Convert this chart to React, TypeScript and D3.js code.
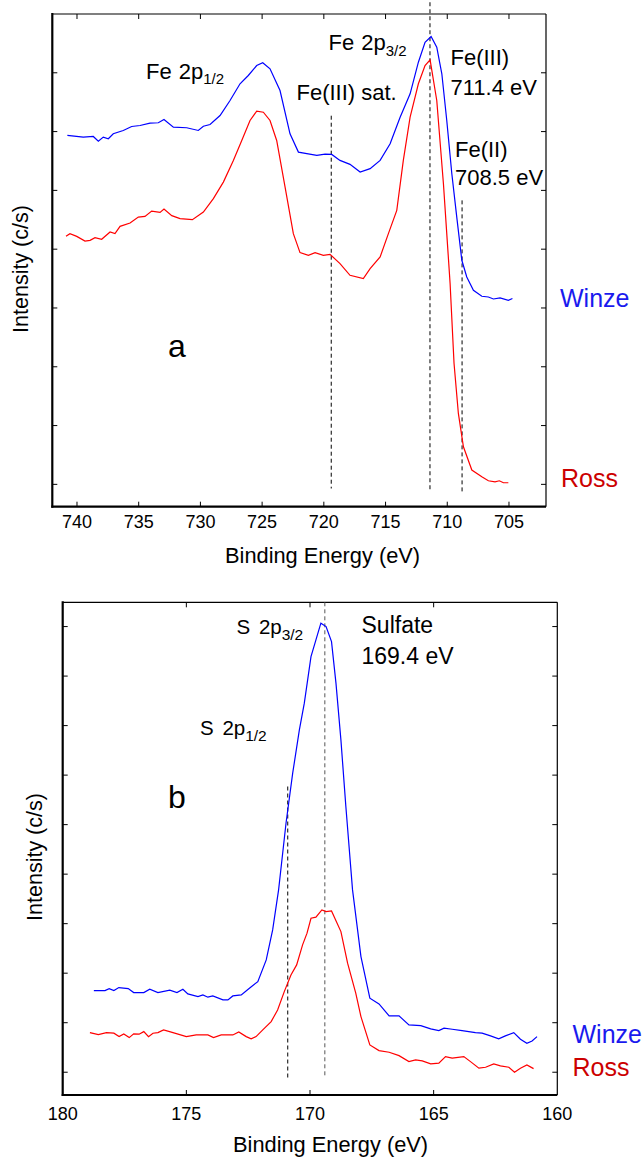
import React from 'react'
import { scaleLinear, line } from 'd3'

// Fe 2p spectra, [binding energy eV, intensity in tick units]
const feWinze: [number, number][] = [
  [740.78, 5.934], [739.49, 5.906], [738.68, 5.917], [738.27, 5.838], [737.87, 5.906],
  [737.46, 5.878], [737.06, 5.963], [736.25, 6.019], [735.57, 6.087], [734.89, 6.104],
  [734.08, 6.143], [733.41, 6.15], [732.95, 6.206], [732.19, 6.075], [731.11, 6.065],
  [730.17, 6.019], [729.76, 6.092], [729.22, 6.121], [728.41, 6.274], [727.6, 6.529],
  [726.79, 6.813], [726.12, 6.954], [725.44, 7.124], [724.95, 7.17], [724.36, 7.068],
  [723.55, 6.699], [722.74, 5.963], [722.06, 5.651], [721.38, 5.624], [720.57, 5.595],
  [719.9, 5.617], [719.36, 5.612], [718.69, 5.51], [717.88, 5.442], [717.06, 5.311],
  [716.25, 5.369], [715.44, 5.51], [714.63, 5.793], [713.82, 6.245], [713.01, 6.643],
  [712.34, 7.18], [711.8, 7.52], [711.31, 7.617], [710.85, 7.435], [710.44, 6.983],
  [710.04, 6.189], [709.63, 5.284], [709.23, 4.546], [708.82, 3.811], [708.42, 3.527],
  [707.88, 3.301], [707.2, 3.199], [706.67, 3.187], [706.26, 3.153], [705.72, 3.17],
  [705.05, 3.131], [704.72, 3.16],
]

const feRoss: [number, number][] = [
  [740.89, 4.218], [740.57, 4.264], [740.02, 4.218], [739.35, 4.139], [738.94, 4.151],
  [738.54, 4.196], [738.0, 4.168], [737.32, 4.292], [736.92, 4.264], [736.51, 4.388],
  [735.7, 4.444], [735.03, 4.546], [734.49, 4.558], [733.95, 4.648], [733.27, 4.626],
  [732.95, 4.682], [732.32, 4.57], [731.65, 4.519], [730.65, 4.502], [729.76, 4.631],
  [728.95, 4.859], [728.14, 5.141], [727.33, 5.51], [726.65, 5.849], [725.98, 6.189],
  [725.44, 6.347], [724.9, 6.33], [724.36, 6.189], [723.82, 5.849], [723.14, 5.056],
  [722.47, 4.264], [721.93, 3.942], [721.25, 3.896], [720.71, 3.942], [720.04, 3.896],
  [719.5, 3.913], [718.69, 3.755], [717.88, 3.556], [716.8, 3.5], [716.25, 3.67],
  [715.44, 3.867], [714.77, 4.264], [714.09, 4.66], [713.56, 5.51], [713.01, 6.245],
  [712.34, 6.813], [711.8, 7.124], [711.39, 7.221], [710.85, 6.529], [710.31, 5.114],
  [709.77, 3.415], [709.45, 2.056], [709.1, 1.206], [708.69, 0.639], [708.01, 0.243],
  [707.2, 0.129], [706.67, 0.061], [706.13, 0.044], [705.78, 0.061], [705.45, 0.027],
  [705.05, 0.027],
]

// S 2p spectra
const sWinze: [number, number][] = [
  [178.74, 1.648], [178.29, 1.648], [178.12, 1.689], [177.93, 1.648], [177.73, 1.709],
  [177.35, 1.689], [177.13, 1.608], [176.72, 1.608], [176.48, 1.676], [176.15, 1.608],
  [175.67, 1.656], [175.38, 1.608], [175.14, 1.676], [174.94, 1.581], [174.53, 1.527],
  [174.33, 1.561], [174.13, 1.515], [173.93, 1.541], [173.52, 1.46], [173.32, 1.46],
  [173.12, 1.541], [172.78, 1.561], [172.45, 1.697], [172.11, 1.83], [171.77, 2.268],
  [171.51, 2.874], [171.27, 3.682], [170.97, 5.029], [170.7, 6.039], [170.43, 6.914],
  [170.23, 7.453], [169.96, 8.394], [169.76, 8.732], [169.56, 9.069], [169.35, 9.0],
  [169.13, 8.697], [168.95, 7.857], [168.75, 6.712], [168.55, 5.365], [168.28, 3.682],
  [167.94, 2.335], [167.58, 1.495], [167.21, 1.38], [166.8, 1.137], [166.4, 1.137],
  [166.0, 0.955], [165.52, 0.941], [165.12, 0.875], [164.79, 0.84], [164.58, 0.889],
  [164.25, 0.868], [163.85, 0.84], [163.58, 0.82], [163.31, 0.8], [163.04, 0.788],
  [162.7, 0.733], [162.37, 0.673], [162.1, 0.733], [161.76, 0.8], [161.49, 0.667],
  [161.23, 0.586], [161.02, 0.632], [160.82, 0.719],
]

const sRoss: [number, number][] = [
  [178.9, 0.8], [178.56, 0.759], [178.23, 0.8], [177.93, 0.788], [177.72, 0.719],
  [177.53, 0.774], [177.31, 0.699], [177.13, 0.774], [176.91, 0.768], [176.72, 0.82],
  [176.53, 0.719], [176.35, 0.788], [176.15, 0.8], [175.92, 0.854], [175.54, 0.8],
  [175.0, 0.719], [174.6, 0.753], [174.13, 0.753], [173.9, 0.699], [173.59, 0.753],
  [173.12, 0.753], [172.88, 0.814], [172.58, 0.719], [172.38, 0.673], [172.18, 0.719],
  [171.91, 0.854], [171.57, 1.022], [171.31, 1.258], [171.04, 1.628], [170.77, 1.965],
  [170.54, 2.167], [170.3, 2.571], [170.12, 2.808], [169.96, 3.11], [169.76, 3.131],
  [169.52, 3.278], [169.35, 3.244], [169.13, 3.258], [168.75, 2.84], [168.48, 2.202],
  [168.15, 1.596], [167.94, 1.123], [167.58, 0.551], [167.21, 0.436], [166.8, 0.404],
  [166.4, 0.335], [166.0, 0.214], [165.73, 0.248], [165.46, 0.228], [165.12, 0.168],
  [164.79, 0.182], [164.52, 0.315], [164.25, 0.283], [163.78, 0.315], [163.51, 0.214],
  [163.17, 0.081], [162.9, 0.101], [162.57, 0.168], [162.3, 0.127], [161.96, 0.101],
  [161.73, 0.0], [161.49, 0.081], [161.23, 0.147], [160.96, 0.073],
]

const feTicksX = [740, 735, 730, 725, 720, 715, 710, 705]
const feTicksY = [0, 1, 2, 3, 4, 5, 6, 7]
const sTicksX = [180, 175, 170, 165, 160]
const sTicksY = [0, 1, 2, 3, 4, 5, 6, 7, 8, 9]

// reference lines: [eV, from, to]
const feMarkers: [number, number, number][] = [[719.4, 6.27, -0.07], [711.4, 8.2, -0.1], [708.8, 4.83, -0.13]]
const sMarkers: [number, number, number][] = [[170.9, 5.77, -0.12], [169.4, 9.49, -0.12]]

const FONT = '"Liberation Sans", Arial, Helvetica, sans-serif'
const BLUE = '#0000ff'
const RED = '#ff0000'

function Frame({ x, y, xTicks, yTicks, edgeTicks, labelGap }: any) {
  const [x0, x1] = x.range()
  const [y0, y1] = y.range()
  const inner = xTicks.filter((t: number) => edgeTicks || (t !== x.domain()[0] && t !== x.domain()[1]))
  return (
    <g>
      {inner.map((t: number) => (
        <g key={'xt' + t}>
          <line x1={x(t)} x2={x(t)} y1={y0} y2={y0 - 5} stroke="#000" />
          <line x1={x(t)} x2={x(t)} y1={y1} y2={y1 + 5} stroke="#000" />
        </g>
      ))}
      {xTicks.map((t: number) => (
        <text key={'xl' + t} x={x(t)} y={y0 + labelGap} textAnchor="middle" fontSize={18} fontFamily={FONT}>{t}</text>
      ))}
      {yTicks.map((t: number) => (
        <g key={'yt' + t}>
          <line x1={x0} x2={x0 + 5} y1={y(t)} y2={y(t)} stroke="#000" />
          <line x1={x1} x2={x1 - 5} y1={y(t)} y2={y(t)} stroke="#000" />
        </g>
      ))}
      <line x1={x0} x2={x1} y1={y1} y2={y1} stroke="#000" strokeWidth={1.2} />
      <line x1={x1} x2={x1} y1={y1} y2={y0} stroke="#000" strokeWidth={1.2} />
      <line x1={x0} x2={x0} y1={y1 - 1} y2={y0 + 1} stroke="#000" strokeWidth={2.2} />
      <line x1={x0 - 1} x2={x1} y1={y0} y2={y0} stroke="#000" strokeWidth={2.2} />
    </g>
  )
}

export default function App() {
  // panel a scales
  const xa = scaleLinear().domain([742, 702]).range([52.3, 546])
  const ya = scaleLinear().domain([-0.38, 8]).range([506.7, 14])
  // panel b scales
  const xb = scaleLinear().domain([180, 160]).range([62.7, 557.3])
  const yb = scaleLinear().domain([-0.46, 9.49]).range([1095, 602.3])

  const la = line<[number, number]>().x(d => xa(d[0])).y(d => ya(d[1]))
  const lb = line<[number, number]>().x(d => xb(d[0])).y(d => yb(d[1]))

  const txt = { fontFamily: FONT, fill: '#000' }

  return (
    <svg width={643} height={1157} style={{ position: 'absolute', left: 0, top: 0, background: '#fff' }}>
      {/* ---- panel a ---- */}
      <Frame x={xa} y={ya} xTicks={feTicksX} yTicks={feTicksY} edgeTicks={true} labelGap={21.5} />
      {feMarkers.map(([e, a, b]) => (
        <line key={'fm' + e} x1={xa(e)} x2={xa(e)} y1={ya(a)} y2={ya(b)} stroke="#000" strokeWidth={1} strokeDasharray="4,3" />
      ))}
      <path d={la(feWinze) || ''} fill="none" stroke={BLUE} strokeWidth={1.2} />
      <path d={la(feRoss) || ''} fill="none" stroke={RED} strokeWidth={1.2} />

      <text x={146} y={78.5} fontSize={22} {...txt}>Fe <tspan dx={1}>2p</tspan><tspan fontSize={15} dy={5.5}>1/2</tspan></text>
      <text x={328.5} y={50} fontSize={22} {...txt}>Fe <tspan dx={1}>2p</tspan><tspan fontSize={15} dy={6}>3/2</tspan></text>
      <text x={296.5} y={100} fontSize={22} {...txt}>Fe(III) sat.</text>
      <text x={450.5} y={65} fontSize={22} {...txt}>Fe(III)</text>
      <text x={450.5} y={95} fontSize={22} {...txt}>711.4 eV</text>
      <text x={455} y={156.5} fontSize={22} {...txt}>Fe(II)</text>
      <text x={455} y={185} fontSize={22} {...txt}>708.5 eV</text>
      <text x={168} y={357} fontSize={32} {...txt}>a</text>
      <text x={560} y={306.5} fontSize={25} fontFamily={FONT} fill="#1a1aee">Winze</text>
      <text x={561} y={487} fontSize={25} fontFamily={FONT} fill="#cc0000">Ross</text>
      <text x={225} y={563} fontSize={21.8} {...txt}>Binding Energy (eV)</text>
      <text transform="translate(27.5,269) rotate(-90)" textAnchor="middle" fontSize={21.5} {...txt}>Intensity (c/s)</text>

      {/* ---- panel b ---- */}
      <Frame x={xb} y={yb} xTicks={sTicksX} yTicks={sTicksY} edgeTicks={false} labelGap={25} />
      {sMarkers.map(([e, a, b], i) => (
        <line key={'sm' + e} x1={xb(e)} x2={xb(e)} y1={yb(a)} y2={yb(b)} stroke={i === 1 ? '#555' : '#000'} strokeWidth={1} strokeDasharray="4,3" />
      ))}
      <path d={lb(sWinze) || ''} fill="none" stroke={BLUE} strokeWidth={1.2} />
      <path d={lb(sRoss) || ''} fill="none" stroke={RED} strokeWidth={1.2} />

      <text x={236.5} y={633.5} fontSize={20.5} {...txt}>S <tspan dx={3}>2p</tspan><tspan fontSize={15.5} dy={6}>3/2</tspan></text>
      <text x={200} y={735} fontSize={20.5} {...txt}>S <tspan dx={3}>2p</tspan><tspan fontSize={15.5} dy={6}>1/2</tspan></text>
      <text x={361.5} y={632.5} fontSize={23} {...txt}>Sulfate</text>
      <text x={361.5} y={663.5} fontSize={23} {...txt}>169.4 eV</text>
      <text x={168} y={808} fontSize={32} {...txt}>b</text>
      <text x={572.5} y={1042.5} fontSize={25} fontFamily={FONT} fill="#1a1aee">Winze</text>
      <text x={572.5} y={1076} fontSize={25} fontFamily={FONT} fill="#cc0000">Ross</text>
      <text x={233} y={1151.5} fontSize={21.8} {...txt}>Binding Energy (eV)</text>
      <text transform="translate(42,857) rotate(-90)" textAnchor="middle" fontSize={21.5} {...txt}>Intensity (c/s)</text>
    </svg>
  )
}
